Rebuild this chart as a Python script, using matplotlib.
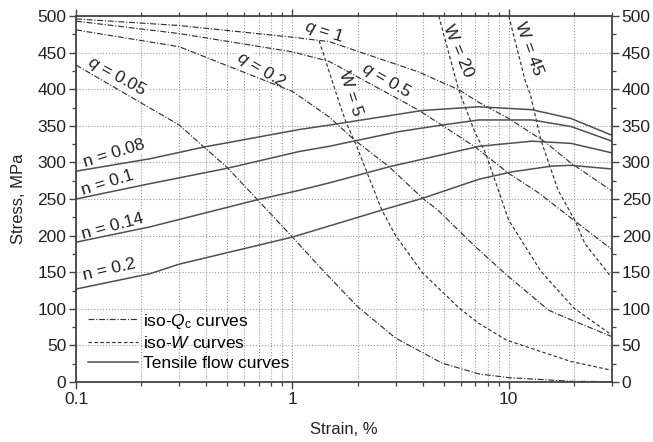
import matplotlib
matplotlib.use('Agg')
import matplotlib.pyplot as plt
from matplotlib.ticker import LogLocator, MultipleLocator, NullFormatter, FuncFormatter

plt.rcParams['font.family'] = ['Liberation Sans', 'DejaVu Sans']
plt.rcParams['mathtext.fontset'] = 'custom'
plt.rcParams['mathtext.rm'] = 'Liberation Sans'
plt.rcParams['mathtext.it'] = 'Liberation Sans:italic'

# tensile flow curves (strain %, stress MPa)
n008_x = [0.1, 0.22, 0.39, 1.08, 1.48, 4.0, 7.28, 12.8, 19.4, 30]
n008_y = [288, 305, 321, 345, 351, 371, 376, 372, 360, 337]
n01_x = [0.1, 0.22, 0.5, 1.08, 1.48, 3.1, 4.9, 7.28, 12.8, 19.4, 30]
n01_y = [250, 271, 292, 315, 322, 342, 351, 358, 358, 349, 329]
n014_x = [0.1, 0.22, 0.69, 1.08, 1.48, 2.8, 7.28, 12.8, 19.4, 30]
n014_y = [191, 212, 249, 262, 272, 294, 322, 329, 326, 313]
n02_x = [0.1, 0.22, 0.3, 1.0, 1.33, 2.6, 4.0, 7.28, 10.3, 15.8, 19.4, 30]
n02_y = [127, 148, 161, 198, 209, 235, 251, 277, 287, 295, 296, 291]

# iso-Qc curves
q005_x = [0.1, 0.3, 0.39, 0.5, 0.69, 1.0, 1.33, 2.0, 3.0, 4.9, 7.28, 10, 19.4, 30]
q005_y = [433, 351, 321, 293, 249, 198, 158, 103, 60, 26, 11, 6, 1, 0.5]
q02_x = [0.1, 0.3, 1.0, 1.48, 1.93, 2.8, 4.0, 4.7, 7.0, 9.8, 15.3, 19.4, 30]
q02_y = [481, 458, 397, 362, 331, 294, 251, 235, 185, 146, 98, 85, 62]
q05_x = [0.1, 0.3, 1.0, 1.48, 3.8, 4.9, 7.0, 10, 13.8, 20, 30]
q05_y = [493, 476, 451, 438, 372, 351, 321, 285, 258, 221, 181]
q1_x = [0.1, 0.3, 1.0, 1.48, 2.04, 3.8, 5.9, 7.28, 10, 14.7, 19.4, 30]
q1_y = [496, 487, 471, 465, 451, 424, 399, 382, 360, 328, 299, 261]

# iso-W curves
w5_x = [1.33, 1.67, 1.77, 1.97, 2.59, 3.0, 3.36, 4.0, 5.9, 7.28, 9.8, 19.4, 30]
w5_y = [466, 376, 355, 324, 235, 200, 180, 149, 101, 80, 57, 28, 16]
w20_x = [4.75, 5.87, 7.0, 7.8, 10.0, 14.1, 20, 30]
w20_y = [500, 399, 340, 313, 221, 151, 101, 64]
w45_x = [10.0, 11.9, 12.6, 14.1, 16.9, 20.2, 22.5, 30]
w45_y = [500, 412, 392, 330, 262, 221, 189, 142]

# curve labels: text, x, y, rotation
labels = [
    (r'$q$ = 0.05', 0.155, 417, -29),
    (r'$q$ = 0.2', 0.72, 426, -31),
    (r'$q$ = 1', 1.40, 478, -17),
    (r'$q$ = 0.5', 2.71, 412, -30),
    ('W = 5', 1.86, 394, -72),
    ('W = 20', 5.83, 453, -67),
    ('W = 45', 12.4, 455, -70),
    ('n = 0.08', 0.150, 312, 17),
    ('n = 0.1', 0.140, 272, 17),
    ('n = 0.14', 0.148, 212, 15),
    ('n = 0.2', 0.142, 154, 13),
]

line_col = '#333333'
dashdot = (0, (5, 1.5, 1, 1.5))
dashed = (0, (3, 2))

fig = plt.figure(figsize=(6.53, 4.42), dpi=100)
ax = fig.add_axes([0.1164, 0.1357, 0.8208, 0.8281])
ax.set_xscale('log')

for x, y in [(q005_x, q005_y), (q02_x, q02_y), (q05_x, q05_y), (q1_x, q1_y)]:
    ax.plot(x, y, color=line_col, lw=0.85, ls=dashdot)
for x, y in [(w5_x, w5_y), (w20_x, w20_y), (w45_x, w45_y)]:
    ax.plot(x, y, color=line_col, lw=0.85, ls=dashed)
for x, y in [(n008_x, n008_y), (n01_x, n01_y), (n014_x, n014_y), (n02_x, n02_y)]:
    ax.plot(x, y, color='#505050', lw=1.1, ls='-')

# legend proxies
ax.plot([], [], color=line_col, lw=0.85, ls=dashdot, label=r'iso-$\mathit{Q}_\mathrm{c}$ curves')
ax.plot([], [], color=line_col, lw=0.85, ls=dashed, label=r'iso-$\mathit{W}$ curves')
ax.plot([], [], color='#505050', lw=1.1, ls='-', label='Tensile flow curves')

for txt, x, y, rot in labels:
    ax.text(x, y, txt, rotation=rot, rotation_mode='anchor', ha='center', va='center',
            fontsize=12.5, color='#222222', zorder=1,
            bbox=dict(facecolor='white', edgecolor='none', pad=0.5))

ax.set_xlim(0.1, 30)
ax.set_ylim(0, 500)
ax.xaxis.set_major_locator(LogLocator(base=10))
ax.xaxis.set_minor_locator(LogLocator(base=10, subs=range(2, 10)))
ax.xaxis.set_minor_formatter(NullFormatter())
ax.xaxis.set_major_formatter(FuncFormatter(lambda v, p: '{:g}'.format(v)))
ax.yaxis.set_major_locator(MultipleLocator(50))
ax.yaxis.set_minor_locator(MultipleLocator(25))

ax.set_axisbelow(True)
ax.grid(True, which='both', axis='x', color='#9a9a9a', ls=':', lw=0.8)
ax.grid(True, which='major', axis='y', color='#9a9a9a', ls=':', lw=0.8)

for s in ax.spines.values():
    s.set_linewidth(1.3)
    s.set_color('#444444')
ax.tick_params(which='both', direction='out', top=True, right=True,
               labelright=True, colors='#444444', labelcolor='#222222', labelsize=12.5)
ax.tick_params(which='major', length=5, width=1.0, pad=2)
ax.tick_params(which='minor', length=3, width=0.9)

ax.set_xlabel('Strain, %', fontsize=12, color='#222222', labelpad=11)
ax.set_ylabel('Stress, MPa', fontsize=12, color='#222222', labelpad=8)

ax.legend(loc='lower left', bbox_to_anchor=(0.022, 0.03), frameon=False, fontsize=12.5,
          handlelength=2.9, handletextpad=0.3, labelspacing=0.27, borderpad=0,
          borderaxespad=0)

fig.savefig('out.png', dpi=100)
